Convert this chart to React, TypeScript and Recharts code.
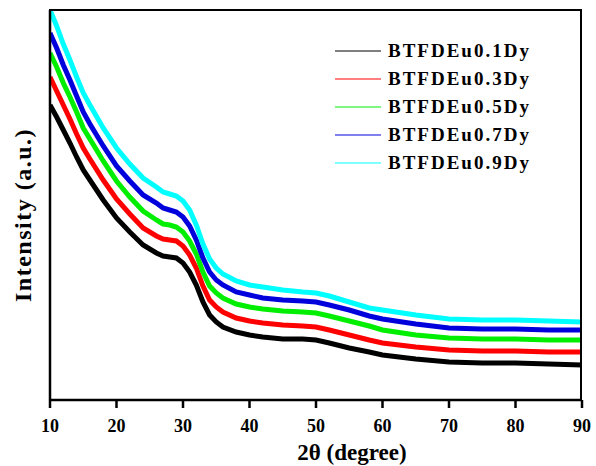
import React from 'react';
import { LineChart, Line, XAxis, YAxis } from 'recharts';

const twoTheta = [10, 11, 12, 13, 14, 15, 16, 18, 20, 22, 24, 26, 27, 28, 29, 30, 31, 32, 33, 34, 35, 36, 38, 40, 42, 45, 48, 50, 52, 55, 58, 60, 65, 70, 75, 80, 85, 90];

// intensity (a.u.), one array per sample
const eu01 = [295, 283, 270, 257, 243, 230, 220, 200, 182, 168, 155, 147, 144, 143, 142, 137, 128, 115, 98, 85, 78, 73, 68, 65, 63, 61, 61, 60, 57, 52, 48, 45, 41, 38, 37, 37, 36, 35];
const eu03 = [323, 309, 295, 281, 266, 252, 241, 220, 201, 186, 172, 164, 161, 160, 159, 154, 145, 132, 114, 100, 93, 88, 82, 79, 77, 75, 74, 73, 70, 65, 60, 57, 53, 50, 49, 49, 48, 48];
const eu05 = [347, 333, 317, 303, 288, 272, 261, 239, 219, 203, 189, 180, 176, 175, 173, 168, 159, 146, 128, 114, 107, 102, 96, 93, 91, 89, 88, 87, 84, 79, 74, 70, 65, 62, 61, 61, 60, 60];
const eu07 = [367, 352, 335, 320, 304, 288, 276, 254, 234, 219, 205, 197, 192, 190, 188, 183, 174, 160, 142, 128, 120, 115, 108, 105, 102, 100, 99, 98, 95, 90, 84, 81, 76, 72, 71, 71, 70, 70];
const eu09 = [390, 374, 356, 340, 323, 307, 295, 272, 252, 236, 222, 213, 208, 206, 204, 199, 190, 175, 156, 141, 132, 126, 119, 115, 113, 110, 108, 107, 104, 98, 92, 90, 85, 81, 80, 80, 79, 78];

const xTicks = [10, 20, 30, 40, 50, 60, 70, 80, 90];

const series = [
  { key: 'eu01', name: 'BTFDEu0.1Dy', color: '#000000', values: eu01 },
  { key: 'eu03', name: 'BTFDEu0.3Dy', color: '#ff0000', values: eu03 },
  { key: 'eu05', name: 'BTFDEu0.5Dy', color: '#00ee00', values: eu05 },
  { key: 'eu07', name: 'BTFDEu0.7Dy', color: '#0000dd', values: eu07 },
  { key: 'eu09', name: 'BTFDEu0.9Dy', color: '#00ffff', values: eu09 },
];

const data = twoTheta.map((t, i) => {
  const row: Record<string, number> = { t };
  series.forEach((s) => { row[s.key] = s.values[i]; });
  return row;
});

const FONT = '"Liberation Serif", "Times New Roman", serif';

// axis titles (the x title sits a bit right of centre in the original)
const XTitle = ({ viewBox }: any) => (
  <text x={viewBox.x + viewBox.width / 2 + 36} y={viewBox.y + 60} textAnchor="middle"
    fill="#000" fontSize={23} fontWeight="bold" fontFamily={FONT}>2θ (degree)</text>
);

const YTitle = ({ viewBox }: any) => {
  const cx = 31;
  const cy = viewBox.y + viewBox.height / 2 + 10;
  return (
    <text x={cx} y={cy} transform={`rotate(-90 ${cx} ${cy})`} textAnchor="middle"
      fill="#000" fontSize={24} fontWeight="bold" fontFamily={FONT} letterSpacing={1.5}>Intensity (a.u.)</text>
  );
};

const LegendBox = () => (
  <div style={{ position: 'absolute', left: 335, top: 37, fontFamily: FONT }}>
    {series.map((s) => (
      <div key={s.key} style={{ display: 'flex', alignItems: 'center', height: 28 }}>
        <svg width={46} height={4} style={{ marginRight: 7 }}>
          <line x1={0} y1={2} x2={46} y2={2} stroke={s.color} strokeWidth={1} />
        </svg>
        <span style={{ fontSize: 19, fontWeight: 'bold', letterSpacing: 2, color: '#000' }}>{s.name}</span>
      </div>
    ))}
  </div>
);

const App = () => {
  return (
    <div style={{ position: 'absolute', left: 0, top: 0, width: 596, height: 466, background: '#fff' }}>
      <LineChart width={596} height={466} data={data} margin={{ top: 10, right: 14, left: 0, bottom: 0 }}>
        <XAxis
          dataKey="t"
          type="number"
          domain={[10, 90]}
          ticks={xTicks}
          allowDataOverflow
          height={66}
          stroke="#000"
          strokeWidth={2.5}
          tickSize={8}
          tickMargin={11}
          tick={{ fill: '#000', fontSize: 18, fontWeight: 'bold', fontFamily: FONT }}
          label={<XTitle />}
        />
        <YAxis
          type="number"
          domain={[0, 390]}
          width={50}
          tick={false}
          tickLine={false}
          stroke="#000"
          strokeWidth={2.5}
          label={<YTitle />}
        />
        {series.map((s) => (
          <Line
            key={s.key}
            dataKey={s.key}
            name={s.name}
            stroke={s.color}
            strokeWidth={5}
            dot={false}
            type="linear"
            isAnimationActive={false}
          />
        ))}
      </LineChart>
      {/* top/right frame of the plot box */}
      <div style={{ position: 'absolute', left: 49, top: 9, width: 533, height: 391, borderTop: '2.5px solid #000', borderRight: '2.5px solid #000', boxSizing: 'border-box', pointerEvents: 'none' }} />
      <LegendBox />
    </div>
  );
};

export default App;
